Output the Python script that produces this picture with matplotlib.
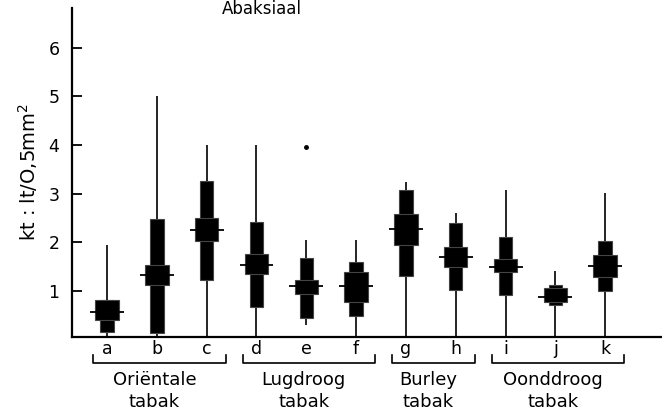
import matplotlib
matplotlib.use("Agg")
import matplotlib.pyplot as plt
import numpy as np

# ---- data ----
categories = ["a", "b", "c", "d", "e", "f", "g", "h", "i", "j", "k"]
whisk_min = [0.0, 0.0, 0.0, 0.0, 0.29, 0.0, 0.0, 0.0, 0.0, 0.0, 0.0]
whisk_max = [1.95, 5.0, 4.0, 4.01, 2.04, 2.04, 3.23, 2.61, 3.07, 1.40, 3.02]
outer_low = [0.16, 0.14, 1.23, 0.66, 0.45, 0.49, 1.30, 1.01, 0.91, 0.70, 0.99]
outer_high = [0.82, 2.47, 3.25, 2.41, 1.67, 1.60, 3.07, 2.39, 2.10, 1.13, 2.02]
inner_low = [0.41, 1.13, 2.02, 1.34, 0.93, 0.76, 1.95, 1.50, 1.38, 0.78, 1.28]
inner_high = [0.82, 1.54, 2.49, 1.75, 1.23, 1.38, 2.59, 1.91, 1.65, 1.05, 1.73]
means = [0.56, 1.32, 2.26, 1.54, 1.09, 1.09, 2.28, 1.69, 1.50, 0.88, 1.52]
outlier_cat = ["e"]
outlier_val = [3.95]

groups = ["Oriëntale\ntabak", "Lugdroog\ntabak", "Burley\ntabak", "Oonddroog\ntabak"]
group_spans = [("a", "c"), ("d", "f"), ("g", "h"), ("i", "k")]
yticks = [1, 2, 3, 4, 5, 6]

# ---- figure ----
W, H = 662, 417
fig = plt.figure(figsize=(W / 100, H / 100), dpi=100)
ax_left, ax_right, ax_top, ax_bot = 72, 662, 8, 337
ax = fig.add_axes([ax_left / W, 1 - ax_bot / H, (ax_right - ax_left) / W, (ax_bot - ax_top) / H])

x = np.arange(len(categories))
lo_out = np.array(outer_low)
hi_out = np.array(outer_high)
lo_in = np.array(inner_low)
hi_in = np.array(inner_high)

ax.vlines(x, whisk_min, whisk_max, color="black", lw=1.2, zorder=2)
ax.bar(x, hi_out - lo_out, bottom=lo_out, width=0.27, color="black", edgecolor="#444444", lw=0.8, zorder=3)
ax.bar(x, hi_in - lo_in, bottom=lo_in, width=0.47, color="black", edgecolor="#444444", lw=0.8, zorder=4)
ax.hlines(means, x - 0.34, x + 0.34, color="black", lw=1.3, zorder=5)
ox = [categories.index(c) for c in outlier_cat]
ax.plot(ox, outlier_val, "o", color="black", ms=2.5, zorder=5)

ax.set_xlim(-0.703, 11.14)
ax.set_ylim(0.05, 6.82)
ax.set_yticks(yticks)
ax.set_yticklabels([str(t) for t in yticks], fontsize=12.5)
ax.tick_params(axis="y", direction="in", length=7.5, width=1.3, pad=9)
ax.set_xticks(x)
ax.set_xticklabels(categories, fontsize=12.5)
ax.tick_params(axis="x", length=0, pad=2)
for s in ["top", "right"]:
    ax.spines[s].set_visible(False)
ax.spines["left"].set_linewidth(1.6)
ax.spines["bottom"].set_linewidth(1.6)
ax.set_ylabel("kt : lt/O,5mm$^2$", fontsize=14, labelpad=6)

# brackets and group labels
tr = ax.get_xaxis_transform()
def yfrac(p):
    return (ax_bot - p) / (ax_bot - ax_top)
y_line, y_tip = yfrac(363), yfrac(355)
for name, (c0, c1) in zip(groups, group_spans):
    x0 = categories.index(c0) - 0.28
    x1 = categories.index(c1) + 0.38
    ax.plot([x0, x0, x1, x1], [y_tip, y_line, y_line, y_tip], color="black", lw=1.2,
            transform=tr, clip_on=False)
    xc = (categories.index(c0) + categories.index(c1)) / 2
    ax.text(xc - 0.05, yfrac(371), name, transform=tr, ha="center", va="top",
            fontsize=13, linespacing=1.3)

fig.text(262 / W, 1 - 0.5 / H, "Abaksiaal", ha="center", va="top", fontsize=12)

fig.savefig("out.png", dpi=100, facecolor="white")
